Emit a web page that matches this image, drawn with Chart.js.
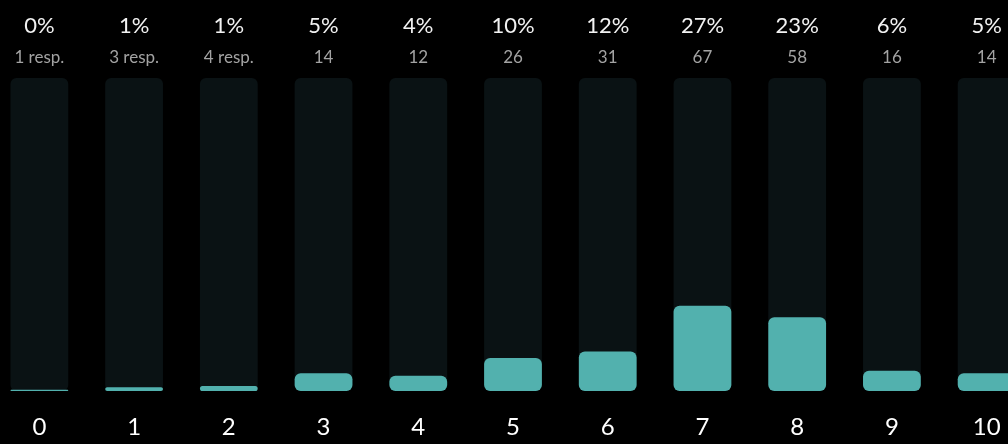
<!DOCTYPE html>
<html>
<head>
<meta charset="utf-8">
<script src="https://cdn.jsdelivr.net/npm/chart.js@4"></script>
<style>
  html, body { margin: 0; padding: 0; background: #000; overflow: hidden; }
  #wrap { position: absolute; left: -8px; top: 0; width: 1042px; height: 444px; }
</style>
</head>
<body>
<div id="wrap"><canvas id="scoreChart"></canvas></div>
<script>
// scores 0..10, responses per score
const scores = ['0', '1', '2', '3', '4', '5', '6', '7', '8', '9', '10'];
const responses = [1, 3, 4, 14, 12, 26, 31, 67, 58, 16, 14];
const percentLabels = ['0%', '1%', '1%', '5%', '4%', '10%', '12%', '27%', '23%', '6%', '5%'];
const respLabels = ['1 resp.', '3 resp.', '4 resp.', '14', '12', '26', '31', '67', '58', '16', '14'];

const totalResponses = responses.reduce((a, b) => a + b, 0);
const trackValues = scores.map(() => totalResponses);

// draws the percent + response count above each column
const headerLabels = {
    id: 'headerLabels',
    afterDraw(chart) {
        const ctx = chart.ctx;
        const xScale = chart.scales.x;
        ctx.save();
        ctx.textAlign = 'center';
        ctx.textBaseline = 'middle';
        scores.forEach((s, i) => {
            let x = xScale.getPixelForValue(i);
            ctx.fillStyle = '#f2f2f2';
            ctx.font = '22px Lato';
            ctx.fillText(percentLabels[i], x, 26);
            ctx.fillStyle = '#a3a3a3';
            ctx.font = '17px Lato';
            ctx.fillText(respLabels[i], x, 58);
        });
        ctx.restore();
    }
};

new Chart(document.getElementById('scoreChart'), {
    type: 'bar',
    data: {
        labels: scores,
        datasets: [{
            label: 'Responses',
            data: responses,
            backgroundColor: '#52b1ae',
            borderRadius: 6,
            borderSkipped: false,
            barPercentage: 0.61,
            categoryPercentage: 1,
            order: 1
        }, {
            label: 'Track',
            data: trackValues,
            backgroundColor: '#0a1214',
            borderRadius: 6,
            borderSkipped: false,
            barPercentage: 0.61,
            categoryPercentage: 1,
            order: 2
        }]
    },
    options: {
        responsive: true,
        maintainAspectRatio: false,
        animation: false,
        layout: { padding: { top: 78, bottom: 0, left: 0, right: 0 } },
        plugins: {
            legend: { display: false },
            tooltip: { enabled: false }
        },
        datasets: { bar: { grouped: false } },
        scales: {
            x: {
                grid: { display: false },
                border: { display: false },
                ticks: {
                    color: '#ffffff',
                    font: { family: 'Lato', size: 24 },
                    padding: 14
                },
                afterFit(scale) {
                    scale.height = 53;
                }
            },
            y: {
                display: false,
                min: 0,
                max: totalResponses
            }
        }
    },
    plugins: [headerLabels]
});
</script>
</body>
</html>
